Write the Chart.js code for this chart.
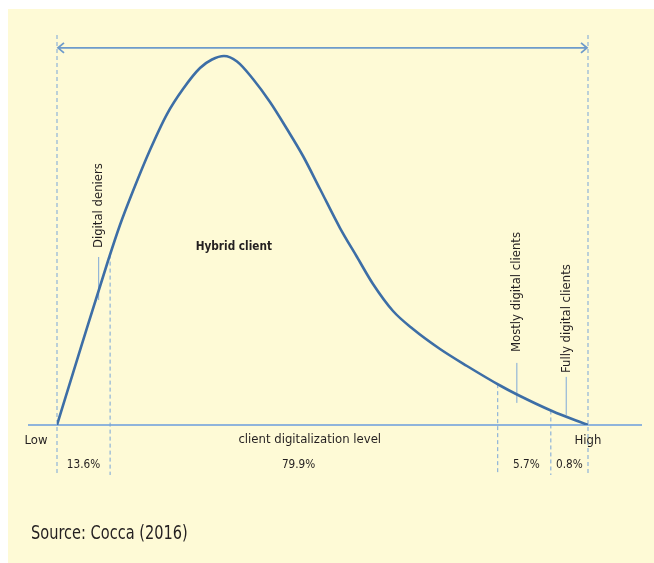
<!DOCTYPE html>
<html>
<head>
<meta charset="utf-8">
<script src="https://cdn.jsdelivr.net/npm/chart.js@4.4.1/dist/chart.umd.min.js"></script>
<style>
  html, body { margin: 0; padding: 0; background: #fff; }
  #wrap { width: 654px; height: 563px; position: relative; }
</style>
</head>
<body>
<div id="wrap"><canvas id="clientChart"></canvas></div>
<script>
// digitalization level (x) and share of clients (y)
var levels = [0, 4.71, 9.60, 11.86, 14.31, 17.51, 20.72, 23.73, 26.93, 29.19, 31.45, 33.90, 36.91, 40.11, 43.31, 46.33, 49.53, 53.30, 56.50, 59.51, 63.28, 67.04, 72.13, 77.21, 83.43, 86.63, 93.22, 100];
var clients = [0, 20.88, 42.27, 51.55, 60.31, 70.88, 80.15, 86.60, 92.01, 94.20, 95.10, 93.69, 89.18, 83.25, 76.29, 69.33, 60.82, 50.77, 43.30, 36.34, 29.38, 24.74, 19.59, 15.21, 10.18, 7.86, 3.61, 0];

// segment borders on the level axis and the share in each segment
var borders = [0, 10, 83, 93, 100];
var segmentShares = ['13.6%', '79.9%', '5.7%', '0.8%'];
var shareLabelX = [5, 45.5, 88.4, 96.5];

// rotated group labels: name, x position, where the text starts, pointer line top / bottom
var groupNames = ['Digital deniers', 'Mostly digital clients', 'Fully digital clients'];
var groupX = [7.85, 86.6, 95.9];
var groupTextY = [45.6, 18.8, 13.4];
var groupLineTop = [43.3, 16.0, 12.4];
var groupLineBottom = [32.2, 5.7, 2.6];

var font = '"DejaVu Sans Condensed", "Liberation Sans", sans-serif';

function curveAt(x) {
    for (var i = 1; i < levels.length; i++) {
        if (x <= levels[i]) {
            var t = (x - levels[i - 1]) / (levels[i] - levels[i - 1]);
            return clients[i - 1] + t * (clients[i] - clients[i - 1]);
        }
    }
    return 0;
}

// text squeezed horizontally to look like the condensed face of the original
function narrowText(ctx, text, x, y, sx) {
    ctx.save();
    ctx.translate(x, y);
    ctx.scale(sx, 1);
    ctx.fillText(text, 0, 0);
    ctx.restore();
}

var decorPlugin = {
    id: 'decor',
    beforeDraw: function(chart) {
        var ctx = chart.ctx;
        ctx.save();
        ctx.fillStyle = '#ffffff';
        ctx.fillRect(0, 0, chart.width, chart.height);
        ctx.fillStyle = '#fefad6';
        ctx.fillRect(8, 9, chart.width - 8, chart.height - 9);
        ctx.restore();
    },
    beforeDatasetsDraw: function(chart) {
        var ctx = chart.ctx;
        var xs = chart.scales.x, ys = chart.scales.y;
        var y0 = ys.getPixelForValue(0);
        ctx.save();

        // baseline axis
        ctx.strokeStyle = '#8fb4db';
        ctx.lineWidth = 2;
        ctx.beginPath();
        ctx.moveTo(28, y0);
        ctx.lineTo(642, y0);
        ctx.stroke();

        // dashed segment borders
        ctx.strokeStyle = '#78a5d9';
        ctx.lineWidth = 1;
        ctx.setLineDash([4, 3]);
        borders.forEach(function(b, i) {
            var px = xs.getPixelForValue(b);
            var top = (i === 0 || i === borders.length - 1) ? ys.getPixelForValue(100) - 2 : ys.getPixelForValue(curveAt(b));
            ctx.beginPath();
            ctx.moveTo(px, top);
            ctx.lineTo(px, y0 + 50);
            ctx.stroke();
        });
        ctx.setLineDash([]);

        // double arrow on top
        var ay = ys.getPixelForValue(97.2);
        var ax1 = xs.getPixelForValue(0) + 1, ax2 = xs.getPixelForValue(100) - 1;
        ctx.strokeStyle = '#6e9bcb';
        ctx.lineWidth = 1.8;
        ctx.beginPath();
        ctx.moveTo(ax1, ay);
        ctx.lineTo(ax2, ay);
        ctx.moveTo(ax1 + 6, ay - 5);
        ctx.lineTo(ax1, ay);
        ctx.lineTo(ax1 + 6, ay + 5);
        ctx.moveTo(ax2 - 6, ay - 5);
        ctx.lineTo(ax2, ay);
        ctx.lineTo(ax2 - 6, ay + 5);
        ctx.stroke();

        // pointer lines for group labels
        ctx.strokeStyle = '#7ea8d8';
        ctx.lineWidth = 1;
        groupNames.forEach(function(n, i) {
            var px = xs.getPixelForValue(groupX[i]);
            ctx.beginPath();
            ctx.moveTo(px, ys.getPixelForValue(groupLineTop[i]));
            ctx.lineTo(px, ys.getPixelForValue(groupLineBottom[i]));
            ctx.stroke();
        });
        ctx.restore();
    },
    afterDraw: function(chart) {
        var ctx = chart.ctx;
        var xs = chart.scales.x, ys = chart.scales.y;
        var y0 = ys.getPixelForValue(0);
        ctx.save();
        ctx.fillStyle = '#231f20';
        ctx.textBaseline = 'middle';

        ctx.font = '13px ' + font;
        ctx.textAlign = 'center';
        ctx.fillText('Low', 36, y0 + 16);
        ctx.fillText('High', xs.getPixelForValue(100), y0 + 16);
        ctx.fillText('client digitalization level', xs.getPixelForValue(47.6), y0 + 15);

        for (var i = 0; i < segmentShares.length; i++) {
            narrowText(ctx, segmentShares[i], xs.getPixelForValue(shareLabelX[i]), y0 + 40, 0.9);
        }

        ctx.font = 'bold 13px ' + font;
        narrowText(ctx, 'Hybrid client', xs.getPixelForValue(33.3), ys.getPixelForValue(45.9), 0.9);

        ctx.font = '13px ' + font;
        ctx.textAlign = 'left';
        groupNames.forEach(function(n, i) {
            ctx.save();
            ctx.translate(xs.getPixelForValue(groupX[i]), ys.getPixelForValue(groupTextY[i]));
            ctx.rotate(-Math.PI / 2);
            ctx.fillText(n, 0, 0);
            ctx.restore();
        });

        ctx.font = '20px ' + font;
        narrowText(ctx, 'Source: Cocca (2016)', 31, 534, 0.81);
        ctx.restore();
    }
};

var ctx = document.getElementById('clientChart').getContext('2d');
new Chart(ctx, {
    type: 'line',
    data: {
        datasets: [{
            data: levels.map(function(x, i) { return { x: x, y: clients[i] }; }),
            borderColor: '#3d6ea6',
            borderWidth: 2.6,
            pointRadius: 0,
            fill: false,
            cubicInterpolationMode: 'monotone'
        }]
    },
    options: {
        responsive: true,
        maintainAspectRatio: false,
        animation: false,
        layout: { padding: { left: 57, right: 66, top: 37, bottom: 138 } },
        plugins: { legend: { display: false }, tooltip: { enabled: false } },
        scales: {
            x: { type: 'linear', min: 0, max: 100, display: false },
            y: { min: 0, max: 100, display: false }
        }
    },
    plugins: [decorPlugin]
});
</script>
</body>
</html>
